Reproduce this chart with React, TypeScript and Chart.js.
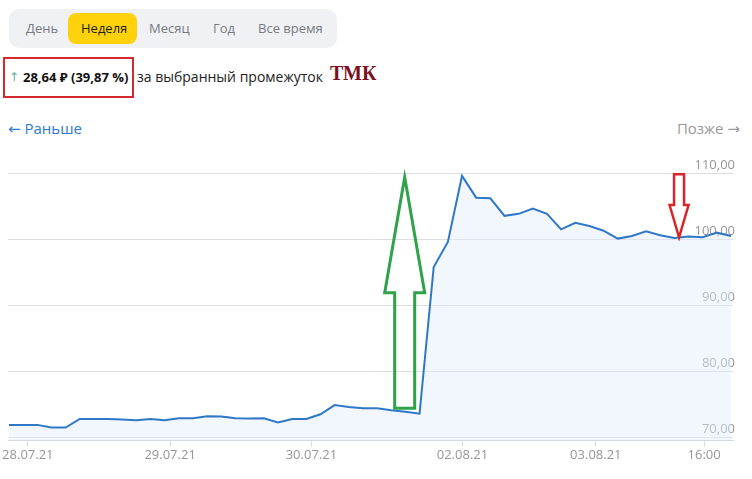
import React, { useEffect, useRef } from "react";
import { Chart, registerables } from "chart.js";

Chart.register(...registerables);

// ---- data ----
const prices: number[] = [
  71.9, 71.9, 71.9, 71.5, 71.5, 72.8, 72.8, 72.8, 72.7, 72.6,
  72.8, 72.6, 72.9, 72.9, 73.2, 73.15, 72.9, 72.85, 72.9, 72.25,
  72.8, 72.8, 73.5, 74.9, 74.6, 74.4, 74.4, 74.1, 73.9, 73.6,
  95.8, 99.6, 109.6, 106.3, 106.2, 103.55, 103.85, 104.65, 103.85, 101.5,
  102.5, 102.0, 101.3, 100.1, 100.5, 101.2, 100.6, 100.2, 100.4, 100.3,
  101.0, 100.5,
];
const xTickPositions: number[] = [1.33, 11.38, 21.36, 32.03, 41.45, 49.1];
const xTickLabels: string[] = ["28.07.21", "29.07.21", "30.07.21", "02.08.21", "03.08.21", "16:00"];
const yTickValues: number[] = [70, 80, 90, 100, 110];
const periods: string[] = ["День", "Неделя", "Месяц", "Год", "Все время"];
const selectedPeriod = "Неделя";

// annotation arrows (data space: x index, y value)
const greenArrow = { x: 27.95, tip: 109.4, headBase: 91.9, base: 74.4, shaftHalf: 10, headHalf: 20, color: "#2fa24a", width: 3 };
const redArrow = { x: 47.33, tip: 100.29, headBase: 105.17, base: 109.85, shaftHalf: 5, headHalf: 9.5, color: "#d7262b", width: 2.5 };

const arrowPlugin = {
  id: "arrows",
  afterDatasetsDraw(chart: any) {
    const { ctx, scales } = chart;
    const xs = scales.x, ys = scales.y;
    const draw = (a: any) => {
      const cx = xs.getPixelForValue(a.x);
      const tipY = ys.getPixelForValue(a.tip);
      const hb = ys.getPixelForValue(a.headBase);
      const bY = ys.getPixelForValue(a.base);
      ctx.save();
      ctx.beginPath();
      ctx.moveTo(cx, tipY);
      ctx.lineTo(cx + a.headHalf, hb);
      ctx.lineTo(cx + a.shaftHalf, hb);
      ctx.lineTo(cx + a.shaftHalf, bY);
      ctx.lineTo(cx - a.shaftHalf, bY);
      ctx.lineTo(cx - a.shaftHalf, hb);
      ctx.lineTo(cx - a.headHalf, hb);
      ctx.closePath();
      ctx.lineWidth = a.width;
      ctx.strokeStyle = a.color;
      ctx.lineJoin = "miter";
      ctx.stroke();
      ctx.restore();
    };
    draw(greenArrow);
    draw(redArrow);
  },
};

const uiFont = "'Open Sans', 'Noto Sans', 'DejaVu Sans', sans-serif";

export default function App() {
  const ref = useRef<HTMLCanvasElement | null>(null);

  useEffect(() => {
    if (!ref.current) return;
    const chart = new Chart(ref.current, {
      type: "line",
      data: {
        datasets: [
          {
            data: prices.map((v, i) => ({ x: i, y: v })),
            borderColor: "#2f78c8",
            borderWidth: 2,
            backgroundColor: "rgba(226, 234, 250, 0.45)",
            fill: "start",
            pointRadius: 0,
            tension: 0,
          },
        ],
      },
      options: {
        animation: false,
        responsive: false,
        devicePixelRatio: 1,
        layout: { padding: { left: 8, right: 15, top: 20, bottom: 15 } },
        plugins: { legend: { display: false }, tooltip: { enabled: false } },
        scales: {
          x: {
            type: "linear",
            min: -0.07,
            max: 51.14,
            afterBuildTicks: (scale: any) => {
              scale.ticks = xTickPositions.map((v) => ({ value: v }));
            },
            ticks: {
              autoSkip: false,
              maxRotation: 0,
              padding: 1,
              color: "#969696",
              font: { family: uiFont, size: 13 },
              callback: (_v: any, i: number) => xTickLabels[i],
            },
            grid: { drawOnChartArea: false, drawTicks: true, tickLength: 6, color: "#d9dce2" },
            border: { display: true, color: "#d3d9e2" },
          },
          y: {
            type: "linear",
            position: "right",
            min: 69.55,
            max: 112,
            afterBuildTicks: (scale: any) => {
              scale.ticks = yTickValues.map((v) => ({ value: v }));
            },
            ticks: {
              mirror: true,
              padding: 2,
              labelOffset: -8,
              color: "#969696",
              font: { family: uiFont, size: 13 },
              callback: (v: any) => Number(v).toFixed(2).replace(".", ","),
            },
            grid: { drawTicks: false, color: "#dcdee2" },
            border: { display: false },
          },
        },
      },
      plugins: [arrowPlugin],
    });
    return () => chart.destroy();
  }, []);

  const tabLeft: number[] = [26, 81, 149, 213, 258];

  return (
    <div style={{ position: "absolute", left: 0, top: 0, width: 752, height: 479, background: "#fff", fontFamily: uiFont, overflow: "hidden" }}>
      <div style={{ position: "absolute", left: 9, top: 9, width: 328, height: 39, borderRadius: 10, background: "#f0f1f4" }} />
      <div style={{ position: "absolute", left: 68, top: 13, width: 69, height: 31, borderRadius: 8, background: "#fdd20a" }} />
      {periods.map((p, i) => (
        <span
          key={p}
          style={{
            position: "absolute",
            left: tabLeft[i],
            top: 19,
            lineHeight: "18px",
            fontSize: 13,
            color: p === selectedPeriod ? "#1e1e1e" : "#777a80",
            whiteSpace: "nowrap",
          }}
        >
          {p}
        </span>
      ))}

      <div style={{ position: "absolute", left: 3, top: 57, width: 131, height: 41, border: "2px solid #d42a2f", boxSizing: "border-box" }} />
      <span style={{ position: "absolute", left: 9, top: 68, lineHeight: "18px", fontSize: 12, color: "#5fb08f" }}>↑</span>
      <span style={{ position: "absolute", left: 23, top: 68, lineHeight: "18px", fontSize: 13, fontWeight: 700, color: "#111", whiteSpace: "nowrap" }}>
        28,64 ₽ (39,87 %)
      </span>
      <span style={{ position: "absolute", left: 137, top: 68, lineHeight: "18px", fontSize: 14, color: "#222", whiteSpace: "nowrap" }}>
        за выбранный промежуток
      </span>
      <span style={{ position: "absolute", left: 330, top: 61, lineHeight: "24px", fontSize: 20, fontWeight: 700, color: "#7a1022", fontFamily: "'Liberation Serif', 'DejaVu Serif', serif" }}>
        ТМК
      </span>

      <span style={{ position: "absolute", left: 8, top: 118, lineHeight: "20px", fontSize: 15, color: "#2a7bd1", whiteSpace: "nowrap" }}>
        ← Раньше
      </span>
      <span style={{ position: "absolute", right: 12, top: 118, lineHeight: "20px", fontSize: 15, color: "#9a9a9a", whiteSpace: "nowrap" }}>
        Позже →
      </span>

      <canvas ref={ref} width={752} height={339} style={{ position: "absolute", left: 0, top: 140, width: 752, height: 339 }} />
    </div>
  );
}
